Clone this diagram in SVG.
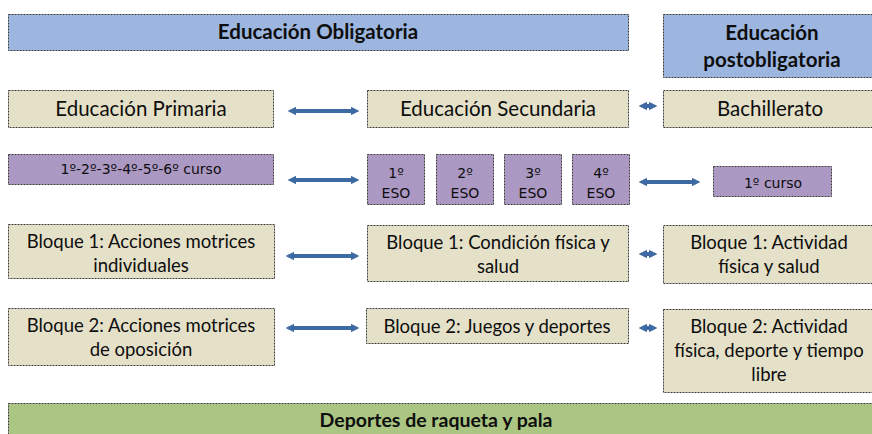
<svg xmlns="http://www.w3.org/2000/svg" width="872" height="434" viewBox="0 0 872 434">
<defs>
<style>
.box{stroke:#3a3a3a;stroke-width:1;stroke-dasharray:2 1}
.blue{fill:#9db6e0}
.beige{fill:#e5e1c9}
.purple{fill:#ab98c3}
.green{fill:#abc583}
text{font-family:Lato,"Open Sans","Liberation Sans",sans-serif;fill:#0e0e0e;text-anchor:middle}
.b{font-weight:bold;font-size:20.5px}
.bl{font-weight:bold;font-size:19.5px}
.l{font-size:20.5px}
.m{font-size:18.5px}
text.s{font-family:"DejaVu Sans",sans-serif;font-size:14px}
.con{stroke:#3d6aa3;stroke-width:4;fill:none;marker-start:url(#ah);marker-end:url(#ah)}
</style>
<marker id="ah" viewBox="0 0 10 10" refX="5" refY="5" markerWidth="2.2" markerHeight="2.2" orient="auto-start-reverse" markerUnits="strokeWidth">
<path d="M0,0 L10,5 L0,10 z" fill="#3d6aa3"/>
</marker>
</defs>

<g id="obligatoria"><rect class="box blue" x="8.5" y="14.5" width="620" height="36"/><text class="b" x="318" y="39">Educación Obligatoria</text></g>
<g id="postobligatoria"><rect class="box blue" x="663.5" y="14.5" width="212" height="63"/><text class="b" x="772" y="40">Educación</text><text class="b" x="772" y="67">postobligatoria</text></g>

<g id="primaria"><rect class="box beige" x="8.5" y="90.5" width="265" height="37"/><text class="l" x="141" y="116">Educación Primaria</text></g>
<g id="secundaria"><rect class="box beige" x="367.5" y="90.5" width="261" height="37"/><text class="l" x="498" y="116">Educación Secundaria</text></g>
<g id="bachillerato"><rect class="box beige" x="663.5" y="90.5" width="212" height="37"/><text class="l" x="770" y="116">Bachillerato</text></g>

<g id="cursos-primaria"><rect class="box purple" x="8.5" y="154.5" width="265" height="30"/><text class="s" x="141" y="174">1º-2º-3º-4º-5º-6º curso</text></g>
<g id="eso1"><rect class="box purple" x="367.5" y="154.5" width="57" height="50"/><text class="s" x="396" y="178">1º</text><text class="s" x="396" y="198">ESO</text></g>
<g id="eso2"><rect class="box purple" x="436.5" y="154.5" width="57" height="50"/><text class="s" x="465" y="178">2º</text><text class="s" x="465" y="198">ESO</text></g>
<g id="eso3"><rect class="box purple" x="504.5" y="154.5" width="57" height="50"/><text class="s" x="533" y="178">3º</text><text class="s" x="533" y="198">ESO</text></g>
<g id="eso4"><rect class="box purple" x="572.5" y="154.5" width="57" height="50"/><text class="s" x="601" y="178">4º</text><text class="s" x="601" y="198">ESO</text></g>
<g id="curso-bach"><rect class="box purple" x="713.5" y="166.5" width="118" height="30"/><text class="s" x="773" y="188">1º curso</text></g>

<g id="p-bloque1"><rect class="box beige" x="8.5" y="224.5" width="266" height="54"/><text class="m" x="141" y="248">Bloque 1: Acciones motrices</text><text class="m" x="141" y="272">individuales</text></g>
<g id="s-bloque1"><rect class="box beige" x="367.5" y="225.5" width="261" height="56"/><text class="m" x="498" y="249">Bloque 1: Condición física y</text><text class="m" x="498" y="273">salud</text></g>
<g id="b-bloque1"><rect class="box beige" x="663.5" y="225.5" width="212" height="58"/><text class="m" x="769" y="249">Bloque 1: Actividad</text><text class="m" x="769" y="273">física y salud</text></g>

<g id="p-bloque2"><rect class="box beige" x="8.5" y="308.5" width="266" height="57"/><text class="m" x="141" y="332">Bloque 2: Acciones motrices</text><text class="m" x="141" y="356">de oposición</text></g>
<g id="s-bloque2"><rect class="box beige" x="366.5" y="308.5" width="262" height="35"/><text class="m" x="497" y="333">Bloque 2: Juegos y deportes</text></g>
<g id="b-bloque2"><rect class="box beige" x="663.5" y="309.5" width="212" height="83"/><text class="m" x="769" y="333">Bloque 2: Actividad</text><text class="m" x="769" y="357">física, deporte y tiempo</text><text class="m" x="769" y="381">libre</text></g>

<g id="deportes"><rect class="box green" x="8.5" y="403.5" width="868" height="40"/><text class="bl" x="436" y="427">Deportes de raqueta y pala</text></g>

<g id="connectors">
<line class="con" x1="292" y1="111" x2="355" y2="111"/>
<line class="con" x1="643" y1="106" x2="653" y2="106"/>
<line class="con" x1="292" y1="180" x2="355" y2="180"/>
<line class="con" x1="643" y1="182" x2="696" y2="182"/>
<line class="con" x1="290" y1="256" x2="355" y2="256"/>
<line class="con" x1="643" y1="254" x2="653" y2="254"/>
<line class="con" x1="290" y1="328" x2="355" y2="328"/>
<line class="con" x1="643" y1="328" x2="653" y2="328"/>
</g>
</svg>
